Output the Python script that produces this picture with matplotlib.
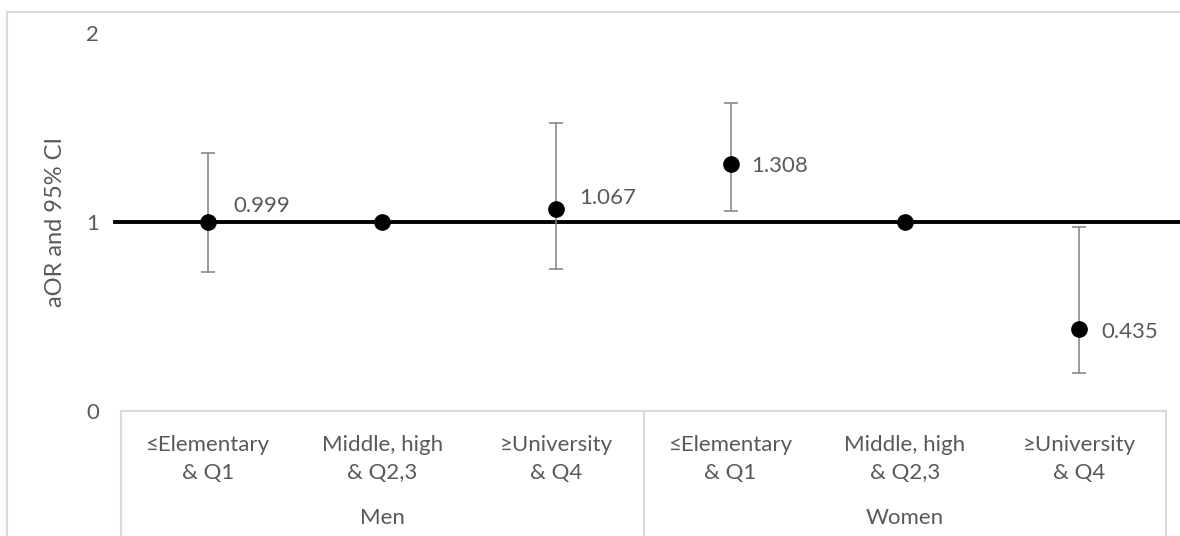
import matplotlib
matplotlib.use("Agg")
import matplotlib.pyplot as plt
from matplotlib.patches import Rectangle

# ---- data ----
categories = ["≤Elementary\n& Q1", "Middle, high\n& Q2,3", "≥University\n& Q4",
              "≤Elementary\n& Q1", "Middle, high\n& Q2,3", "≥University\n& Q4"]
groups = ["Men", "Women"]
aor = [0.999, 1.0, 1.067, 1.308, 1.0, 0.435]
ci_low = [0.734, None, 0.751, 1.058, None, 0.199]
ci_high = [1.367, None, 1.522, 1.631, None, 0.972]
value_labels = ["0.999", "", "1.067", "1.308", "", "0.435"]
yticks = [0, 1, 2]
ref_value = 1

# ---- style ----
W, H = 1180, 536
FONT = ["Lato", "DejaVu Sans"]
TXT = "#595959"
FS = 16
plt.rcParams["font.family"] = FONT

fig = plt.figure(figsize=(W / 100, H / 100), dpi=100)
left_px, right_px, top_px, bot_px = 121, 1166, 33, 411
ax = fig.add_axes([left_px / W, 1 - bot_px / H, (right_px - left_px) / W, (bot_px - top_px) / H])

# outer chart border
fig.patches.append(Rectangle((7 / W, -0.1), 1.2, (H - 12) / H + 0.1, transform=fig.transFigure,
                             fill=False, edgecolor="#d9d9d9", linewidth=1.5))

x = list(range(len(categories)))
ax.set_xlim(-0.5, len(categories) - 0.5)
ax.set_ylim(0, 2)

# reference line
ax.axhline(ref_value, xmin=-6 / 1045, xmax=(1180 - 121) / 1045, color="black", lw=2.8,
           clip_on=False, zorder=2)

# error bars
for xi, v, lo, hi in zip(x, aor, ci_low, ci_high):
    if lo is not None:
        ax.errorbar([xi], [v], yerr=[[v - lo], [hi - v]], fmt="none", ecolor="#808080",
                    elinewidth=1.1, capsize=5, capthick=1.1, zorder=3)

ax.plot(x, aor, "o", color="black", markersize=11, zorder=4, linestyle="none")

offsets = [(25, 16), (0, 0), (23, 11), (21, -2), (0, 0), (22, -3)]
for xi, v, lab, off in zip(x, aor, value_labels, offsets):
    if lab:
        ax.annotate(lab, (xi, v), xytext=off, textcoords="offset pixels",
                    ha="left", va="center", fontsize=FS, color=TXT)

for s in ax.spines.values():
    s.set_visible(False)
ax.set_yticks(yticks)
ax.set_yticklabels([str(t) for t in yticks], fontsize=FS, color=TXT)
ax.tick_params(axis="y", length=0, pad=16)
ax.set_ylabel("aOR and 95% CI", fontsize=FS + 1, color=TXT, labelpad=14)

ax.set_xticks(x)
ax.set_xticklabels(categories, fontsize=FS, color=TXT, linespacing=1.55)
ax.tick_params(axis="x", length=0, pad=17)

# category axis box
box_kw = dict(color="#d9d9d9", lw=1.5, clip_on=False, transform=ax.get_xaxis_transform())
ax.plot([-0.5, len(categories) - 0.5], [0, 0], **box_kw)
for b in [-0.5, 2.5, 5.5]:
    ax.plot([b, b], [0, -0.4], **box_kw)

for gi, g in enumerate(groups):
    ax.annotate(g, (gi * 3 + 1, 0), xycoords=ax.get_xaxis_transform(), xytext=(0, -107),
                textcoords="offset pixels", ha="center", va="center", fontsize=FS, color=TXT)

fig.savefig("out.png", dpi=100, facecolor="white")
